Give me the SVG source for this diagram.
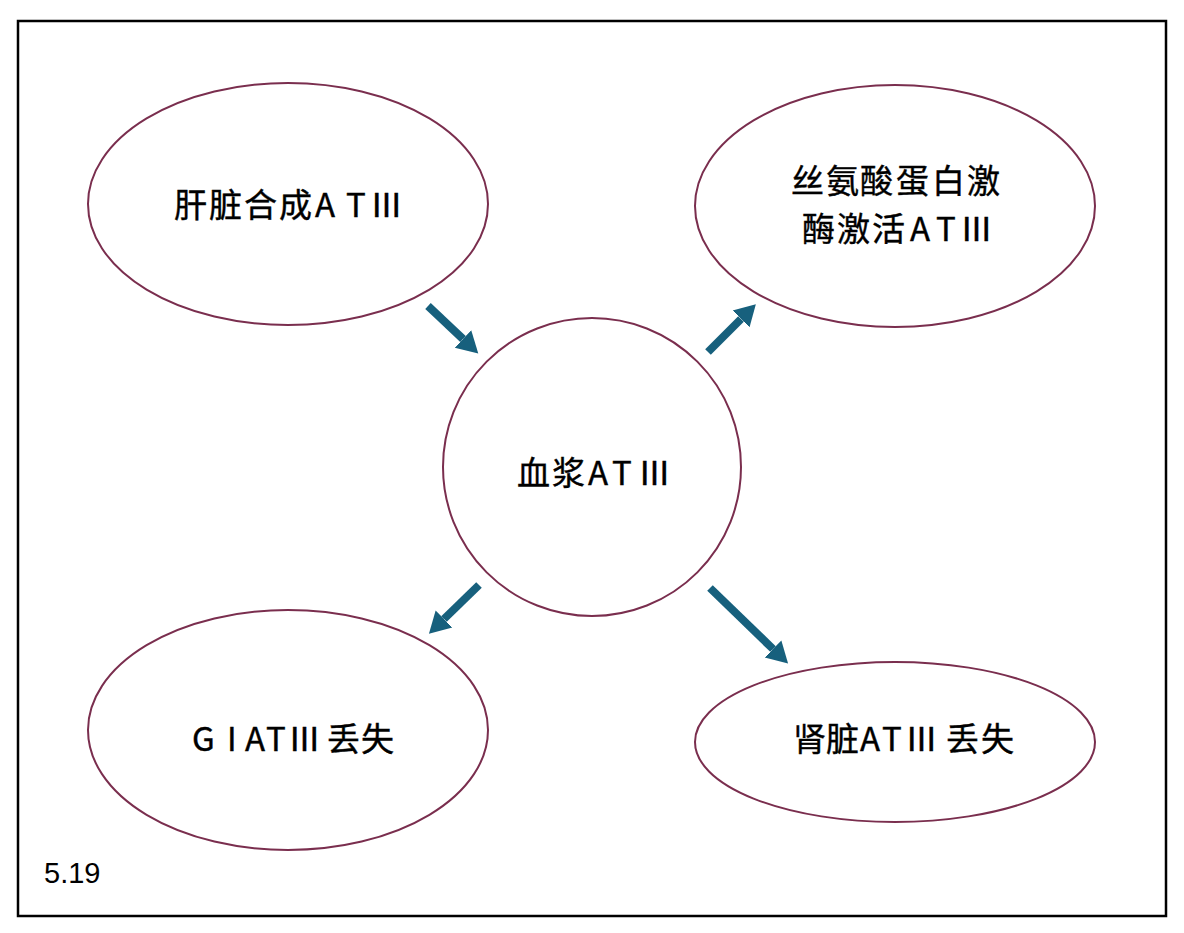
<svg xmlns="http://www.w3.org/2000/svg" width="1184" height="933" viewBox="0 0 1184 933">
<style>
.node{fill:#fff;stroke:#7a2e4e;stroke-width:2}
.lbl{font-family:"Noto Sans CJK SC","Noto Sans",sans-serif;font-size:33px;fill:#000;stroke:#000;stroke-width:0.4}
.con{stroke:#17607d;stroke-width:8;fill:none;marker-end:url(#ah)}
.num{font-family:"Liberation Sans",Arial,sans-serif;font-size:29px;fill:#000}
</style>
<defs>
<marker id="ah" markerUnits="userSpaceOnUse" markerWidth="22" markerHeight="26" refX="0" refY="13" orient="auto" viewBox="0 0 22 26">
<path d="M0,1 L21,13 L0,25 z" fill="#17607d"/>
</marker>
</defs>
<rect x="0" y="0" width="1184" height="933" fill="#fff"/>
<rect x="18" y="21" width="1148" height="895" fill="none" stroke="#000" stroke-width="2.5"/>
<g id="liver">
<ellipse class="node" cx="288" cy="204" rx="200" ry="121"/>
<text class="lbl" x="174 209 244 279 315 346 370" y="217">肝脏合成ATⅢ</text>
</g>
<g id="serine">
<ellipse class="node" cx="895" cy="206" rx="200" ry="121"/>
<text class="lbl" x="791 826 860 896 932 967" y="193">丝氨酸蛋白激</text>
<text class="lbl" x="802 837 872 910 936 960" y="241">酶激活ATⅢ</text>
</g>
<g id="plasma">
<circle class="node" cx="592" cy="467" r="149"/>
<text class="lbl" x="517 552 588 612 638" y="485">血浆ATⅢ</text>
</g>
<g id="gi">
<ellipse class="node" cx="288" cy="730" rx="200" ry="120"/>
<text class="lbl" x="192 227 245 266 288 327 361" y="751">GIATⅢ丢失</text>
</g>
<g id="kidney">
<ellipse class="node" cx="895" cy="742" rx="200" ry="80"/>
<text class="lbl" x="793 826 860 882 905 946 981" y="751">肾脏ATⅢ丢失</text>
</g>
<g id="connectors">
<line class="con" x1="428" y1="306" x2="463" y2="339"/>
<line class="con" x1="708" y1="352" x2="741" y2="319"/>
<line class="con" x1="479" y1="585" x2="444" y2="619"/>
<line class="con" x1="710" y1="588" x2="773" y2="649"/>
</g>
<text class="num" x="44" y="883">5.19</text>
</svg>
